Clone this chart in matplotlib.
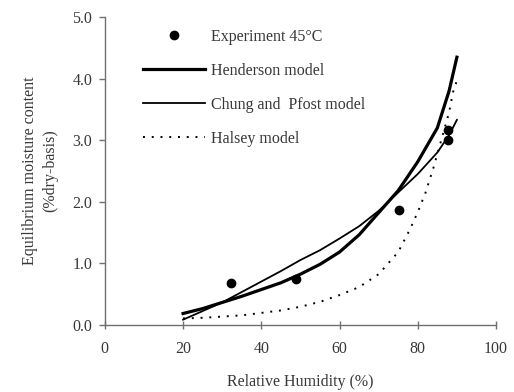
import matplotlib
matplotlib.use('Agg')
import matplotlib.pyplot as plt

plt.rcParams['font.family'] = ['Liberation Serif', 'DejaVu Serif']

# Measured equilibrium moisture content at 45 degC
exp_rh = [32.3, 48.9, 75.2, 87.8, 87.8]
exp_emc = [0.68, 0.74, 1.86, 3.17, 3.00]

# Model predictions, sampled along relative humidity (%)
model_rh = [20, 25, 30, 35, 40, 45, 50, 55, 60, 65, 70, 75, 80, 85, 88, 90]
henderson = [0.18, 0.26, 0.36, 0.46, 0.57, 0.68, 0.82, 0.98, 1.18, 1.46, 1.82, 2.18, 2.65, 3.20, 3.80, 4.35]
chung_pfost = [0.08, 0.22, 0.36, 0.53, 0.70, 0.87, 1.05, 1.21, 1.40, 1.60, 1.85, 2.15, 2.45, 2.80, 3.08, 3.33]

halsey_rh = [20, 25, 30, 35, 40, 45, 50, 55, 60, 65, 70, 75, 78, 80, 82, 84, 86, 88, 89, 90]
halsey = [0.10, 0.11, 0.13, 0.15, 0.19, 0.23, 0.29, 0.37, 0.48, 0.61, 0.82, 1.18, 1.55, 1.83, 2.15, 2.55, 3.00, 3.45, 3.78, 3.97]

text_col = '#383838'
axis_col = '#707070'

fig = plt.figure(figsize=(5.14, 3.92), dpi=100)
ax = fig.add_axes([0.204, 0.172, 0.761, 0.784])

ax.plot(exp_rh, exp_emc, 'o', color='black', markersize=6, label='Experiment 45\u00b0C')
ax.plot(model_rh, henderson, '-', color='black', lw=2.3, label='Henderson model')
ax.plot(model_rh, chung_pfost, '-', color='black', lw=1.3, label='Chung and  Pfost model')
ax.plot(halsey_rh, halsey, color='black', lw=1.4, linestyle=(0, (1, 3.5)), label='Halsey model')

ax.set_xlim(0, 100)
ax.set_ylim(0, 5)
ax.set_xticks([0, 20, 40, 60, 80, 100])
ax.set_yticks([0, 1, 2, 3, 4, 5])
ax.set_yticklabels(['0.0', '1.0', '2.0', '3.0', '4.0', '5.0'])

for side in ['top', 'right']:
    ax.spines[side].set_visible(False)
for side in ['left', 'bottom']:
    ax.spines[side].set_color(axis_col)
    ax.spines[side].set_linewidth(1.0)

ax.tick_params(axis='x', direction='inout', length=6, width=1, color=axis_col,
               labelsize=11.5, labelcolor=text_col, pad=9)
ax.tick_params(axis='y', direction='out', length=4, width=1, color=axis_col,
               labelsize=11.5, labelcolor=text_col, pad=5)

ax.set_xlabel('Relative Humidity (%)', fontsize=11.5, color=text_col, labelpad=12)
ax.set_ylabel('Equilibrium moisture content\n(%dry-basis)', fontsize=11.5,
              color=text_col, labelpad=10, linespacing=1.4)

ax.legend(loc='upper left', bbox_to_anchor=(0.097, 0.962), frameon=False,
          fontsize=11.5, labelcolor=text_col, handlelength=3.9, handletextpad=0.4,
          labelspacing=1.13, borderpad=0, borderaxespad=0, numpoints=1)

fig.savefig('out.png', dpi=100)
